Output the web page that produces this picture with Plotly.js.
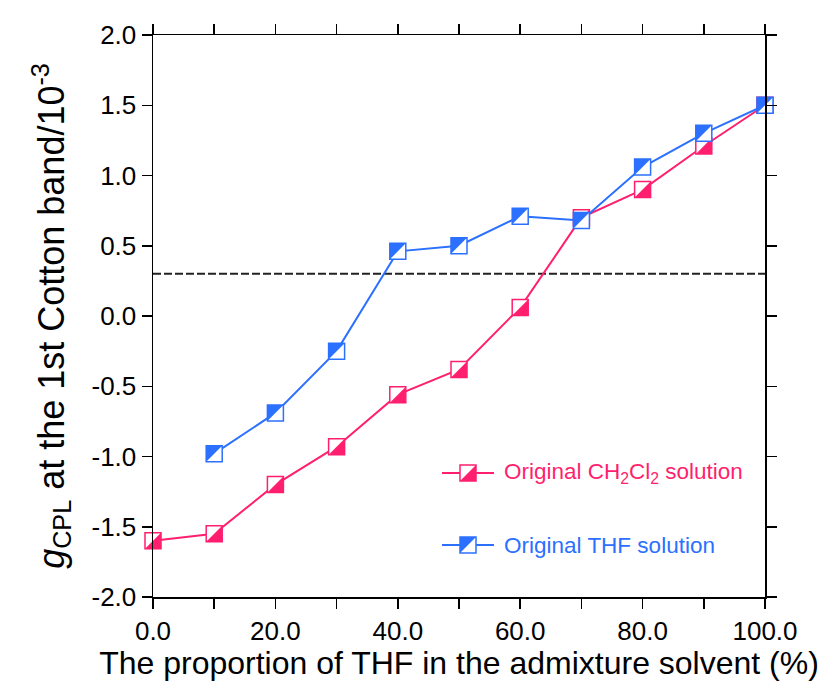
<!DOCTYPE html>
<html><head><meta charset="utf-8">
<script src="https://cdn.plot.ly/plotly-3.0.1.min.js"></script>
<style>html,body{margin:0;padding:0;background:#fff}</style>
</head><body><div id="chart" style="width:820px;height:681px"></div>
<script>
// ---- data ----
const ch2cl2X = [0, 10, 20, 30, 40, 50, 60, 70, 80, 90, 100];
const ch2cl2G = [-1.60, -1.55, -1.20, -0.93, -0.56, -0.38, 0.06, 0.70, 0.90, 1.21, 1.50];
const thfX = [10, 20, 30, 40, 50, 60, 70, 80, 90, 100];
const thfG = [-0.98, -0.69, -0.25, 0.46, 0.50, 0.71, 0.68, 1.06, 1.30, 1.50];
const thresholdG = 0.30;
const xTickVals = [0, 20, 40, 60, 80, 100];
const xTickText = ['0.0', '20.0', '40.0', '60.0', '80.0', '100.0'];
const yTickVals = [-2, -1.5, -1, -0.5, 0, 0.5, 1, 1.5, 2];
const yTickText = ['-2.0', '-1.5', '-1.0', '-0.5', '0.0', '0.5', '1.0', '1.5', '2.0'];
const seriesNames = ['Original CH<sub>2</sub>Cl<sub>2</sub> solution', 'Original THF solution'];

// ---- style ----
const PINK = '#FF1F6E';
const BLUE = '#2B70FF';
const FONT = 'Liberation Sans, Arial, Helvetica, sans-serif';
const W = 820, H = 681;
const M = {l: 153, r: 55, t: 35, b: 84};
const plotW = W - M.l - M.r, plotH = H - M.t - M.b;
const xRange = [0, 100], yRange = [-2, 2];
const ux = (xRange[1] - xRange[0]) / plotW, uy = (yRange[1] - yRange[0]) / plotH;
const SQ = 16, SQLW = 1.5;
const TRI = SQ / 0.9;               // right-triangle legs = 0.9*size
const d = SQ / 2 - 0.6 * TRI / 2;   // offset of triangle corner to square corner (px)

function lineTrace(x, y, color, xa, ya) {
  return {x: x, y: y, xaxis: xa, yaxis: ya, type: 'scatter', mode: 'lines+markers', cliponaxis: false,
    showlegend: false, hoverinfo: 'skip',
    line: {color: color, width: 2},
    marker: {symbol: 'square', size: SQ, color: '#ffffff', line: {color: color, width: SQLW}}};
}
function triTrace(x, y, color, sym, xa, ya) {
  return {x: x, y: y, xaxis: xa, yaxis: ya, type: 'scatter', mode: 'markers', cliponaxis: false,
    showlegend: false, hoverinfo: 'skip',
    marker: {symbol: sym, size: TRI, color: color, line: {width: 0}}};
}

const data = [
  lineTrace(ch2cl2X, ch2cl2G, PINK, 'x', 'y'),
  triTrace(ch2cl2X, ch2cl2G, PINK, 'triangle-se', 'x2', 'y2'),
  lineTrace(thfX, thfG, BLUE, 'x3', 'y3'),
  triTrace(thfX, thfG, BLUE, 'triangle-nw', 'x4', 'y4')
];

const axBase = {showgrid: false, zeroline: false, showline: true, linecolor: '#000', linewidth: 1.5,
  ticks: 'outside', ticklen: 10, tickwidth: 1.5, tickcolor: '#000', mirror: 'ticks',
  tickfont: {family: FONT, size: 26, color: '#000'}};
const hid = {visible: false, showgrid: false, zeroline: false, fixedrange: true};

// legend glyph positions (paper coords)
const lgX = (468 - M.l) / plotW;
const lgY = [(M.t + plotH - 473) / plotH, (M.t + plotH - 545) / plotH];
const lgTextX = (502 - M.l) / plotW;
const colors = [PINK, BLUE];
const triPaths = ['M -8,-8 L 8,-8 L 8,8 Z', 'M -8,-8 L -8,8 L 8,8 Z'];

const shapes = [{type: 'line', xref: 'paper', x0: 0, x1: 1, yref: 'y', y0: thresholdG, y1: thresholdG,
  line: {color: '#222222', width: 2, dash: '8px,3px'}, layer: 'below'}];
const annotations = [];
[0, 1].forEach(i => {
  const pix = {xref: 'paper', yref: 'paper', xsizemode: 'pixel', ysizemode: 'pixel', xanchor: lgX, yanchor: lgY[i]};
  shapes.push(Object.assign({type: 'line', x0: -26, x1: 26, y0: 0, y1: 0, line: {color: colors[i], width: 2}}, pix));
  shapes.push(Object.assign({type: 'rect', x0: -8, x1: 8, y0: -8, y1: 8, fillcolor: '#ffffff', line: {color: colors[i], width: SQLW}}, pix));
  shapes.push(Object.assign({type: 'path', path: triPaths[i], fillcolor: colors[i], line: {width: 0}}, pix));
  annotations.push({xref: 'paper', yref: 'paper', x: lgTextX, y: lgY[i], xanchor: 'left', yanchor: 'middle',
    showarrow: false, text: seriesNames[i], font: {family: FONT, size: 22.5, color: colors[i]}});
});

const layout = {
  width: W, height: H, margin: M, paper_bgcolor: '#fff', plot_bgcolor: '#fff', showlegend: false,
  font: {family: FONT, color: '#000'},
  xaxis: Object.assign({}, axBase, {range: xRange, tickvals: xTickVals, ticktext: xTickText,
    minor: {dtick: 10, tick0: 0, ticks: 'outside', ticklen: 10, tickwidth: 1.5, tickcolor: '#000', showgrid: false},
    title: {text: 'The proportion of THF in the admixture solvent (%)', font: {family: FONT, size: 32, color: '#000'}, standoff: 6}}),
  yaxis: Object.assign({}, axBase, {range: yRange, tickvals: yTickVals, ticktext: yTickText,
    title: {text: '<i>g</i><sub>CPL</sub> at the 1st Cotton band/10<sup>-3</sup>', font: {family: FONT, size: 36, color: '#000'}, standoff: 16}}),
  xaxis2: Object.assign({}, hid, {overlaying: 'x', anchor: 'y2', range: [xRange[0] - d * ux, xRange[1] - d * ux]}),
  yaxis2: Object.assign({}, hid, {overlaying: 'y', anchor: 'x2', range: [yRange[0] + d * uy, yRange[1] + d * uy]}),
  xaxis3: Object.assign({}, hid, {overlaying: 'x', anchor: 'y3', range: xRange}),
  yaxis3: Object.assign({}, hid, {overlaying: 'y', anchor: 'x3', range: yRange}),
  xaxis4: Object.assign({}, hid, {overlaying: 'x', anchor: 'y4', range: [xRange[0] + d * ux, xRange[1] + d * ux]}),
  yaxis4: Object.assign({}, hid, {overlaying: 'y', anchor: 'x4', range: [yRange[0] - d * uy, yRange[1] - d * uy]}),
  shapes: shapes, annotations: annotations
};
Plotly.newPlot('chart', data, layout, {displayModeBar: false, staticPlot: true});
</script></body></html>
